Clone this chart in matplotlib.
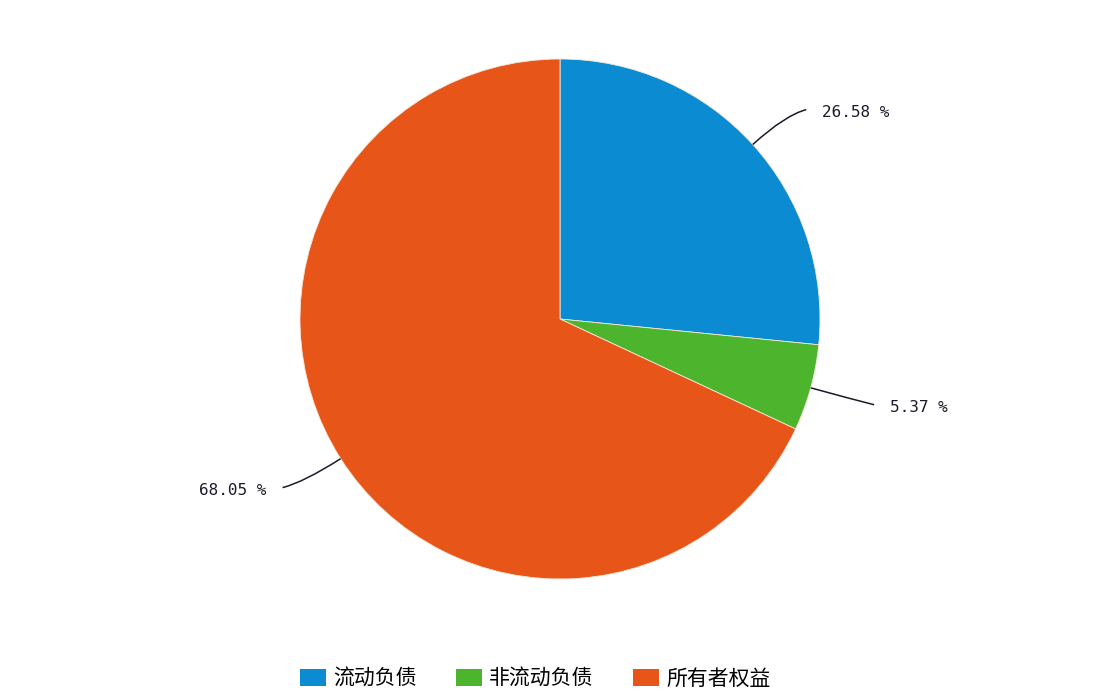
import numpy as np
import matplotlib
matplotlib.use("Agg")
import matplotlib.pyplot as plt
from matplotlib.patches import Patch, PathPatch
from matplotlib.path import Path

plt.rcParams['font.family'] = ['Noto Sans CJK SC', 'DejaVu Sans']

categories = ['流动负债', '非流动负债', '所有者权益']
shares = [26.58, 5.37, 68.05]
colors = ['#0b8bd1', '#4cb52d', '#e85518']

fig = plt.figure(figsize=(11.2, 6.92), dpi=100)
# pie box: center (560, 319) px, radius 260 px
ax = fig.add_axes([300 / 1120, (692 - 579) / 692, 520 / 1120, 520 / 692])

wedges, _ = ax.pie(shares, colors=colors, startangle=90, counterclock=False,
                   radius=1, center=(0, 0), frame=False,
                   wedgeprops=dict(edgecolor='#f4e8d8', linewidth=0.6))
ax.set_xlim(-1, 1)
ax.set_ylim(-1, 1)
ax.set_aspect('auto')
ax.axis('off')

# smoothed leader lines
for w, val in zip(wedges, shares):
    ang = np.deg2rad((w.theta1 + w.theta2) / 2)
    c, s = np.cos(ang), np.sin(ang)
    side = 1 if c >= 0 else -1
    up = 1 if s >= 0 else -1
    p0 = (c, s)
    ctrl = (1.17 * c, 1.17 * s)
    p2 = (ctrl[0] + side * 0.08, ctrl[1] + up * 0.02)
    path = Path([p0, ctrl, p2], [Path.MOVETO, Path.CURVE3, Path.CURVE3])
    ax.add_patch(PathPatch(path, facecolor='none', edgecolor='#1a1a2a',
                           lw=1.1, clip_on=False))
    ax.text(p2[0] + side * 0.062, p2[1] - 0.012, f'{val:.2f} %',
            ha='left' if side > 0 else 'right', va='center',
            fontsize=11.5, family='DejaVu Sans Mono', color='#1a1a2a')

handles = [Patch(facecolor=c, edgecolor='none') for c in colors]
fig.legend(handles, categories, loc='center', bbox_to_anchor=(0.478, 0.0195),
           ncol=3, frameon=False, fontsize=15, handlelength=1.25, handleheight=0.9,
           handletextpad=0.33, columnspacing=1.9, borderpad=0)

fig.savefig('out.png', dpi=100, facecolor='white')
